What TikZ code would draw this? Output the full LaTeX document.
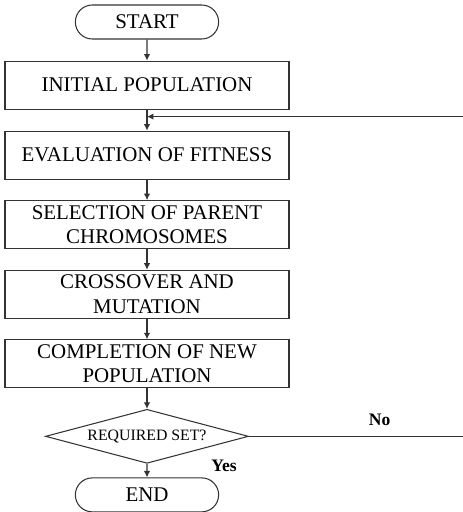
\documentclass[tikz,border=0pt]{standalone}
\usepackage{fontspec}
\setmainfont{Liberation Serif}
\usetikzlibrary{positioning, shapes.geometric, shapes.misc, arrows.meta}
\tikzset{process node/.style={rectangle, draw=black!80, line width=0.6pt, minimum width=5.68cm, minimum height=0.96cm, inner sep=2pt, align=center, font=\fontsize{11.9}{14}\selectfont}}
\tikzset{terminal node/.style={rounded rectangle, draw=black!80, line width=0.6pt, minimum width=3.1cm, minimum height=0.68cm, font=\fontsize{11.9}{14}\selectfont}}
\tikzset{decision node/.style={diamond, aspect=3.7, draw=black!80, line width=0.6pt, minimum width=4.06cm, minimum height=1.08cm, inner sep=0pt, font=\fontsize{9}{11}\selectfont}}
\tikzset{flow/.style={draw=black!80, line width=0.6pt, -{Latex[length=1.3mm, width=1.3mm]}}}
\tikzset{answer/.style={font=\fontsize{10}{12}\selectfont\bfseries}}

\begin{document}
\begin{tikzpicture}
			% Keep the frame of the picture fixed
			\useasboundingbox (-2.94,0.44) rectangle (6.32,-9.8);
			% Define each node
			% The value between parenthesis is the name of the node
		    \node[terminal node] (start) at (0,0) {START};
		    \node[process node] (init) [below = 0.42cm of start] {INITIAL POPULATION};
		    \node[process node] (eval) [below = 0.42cm of init] {EVALUATION OF FITNESS};
		    \node[process node] (select) [below = 0.41cm of eval] {SELECTION OF PARENT\\CHROMOSOMES};
		    \node[process node] (cross) [below = 0.41cm of select] {CROSSOVER AND\\MUTATION};
		    \node[process node] (complete) [below = 0.41cm of cross] {COMPLETION OF NEW\\POPULATION};
		    \node[decision node] (check) [below = 0.41cm of complete] {REQUIRED SET?};
		    \node[terminal node] (end) [below = 0.27cm of check] {END};
		    % Points used by the loop back
		    \coordinate[below = 0.14cm of init] (join);
		    \coordinate (rim) at (6.32,0);
		
		    \path[every edge/.style={flow}]
		    % Draw edges between nodes
		    (start) edge node {} (init)
		    (init) edge node {} (eval)
		    (eval) edge node {} (select)
		    (select) edge node {} (cross)
		    (cross) edge node {} (complete)
		    (complete) edge node {} (check)
		    % Include text on edge by adding text inside {}
		    (check) edge node[answer, right = 1.16cm, yshift=0.1cm] {Yes} (end)
		    (check) edge[-] node[answer, above, pos=0.61, yshift=0.08cm] {No} (check.east -| rim)
		    (join -| rim) edge node {} (join);
		\end{tikzpicture}
\end{document}
